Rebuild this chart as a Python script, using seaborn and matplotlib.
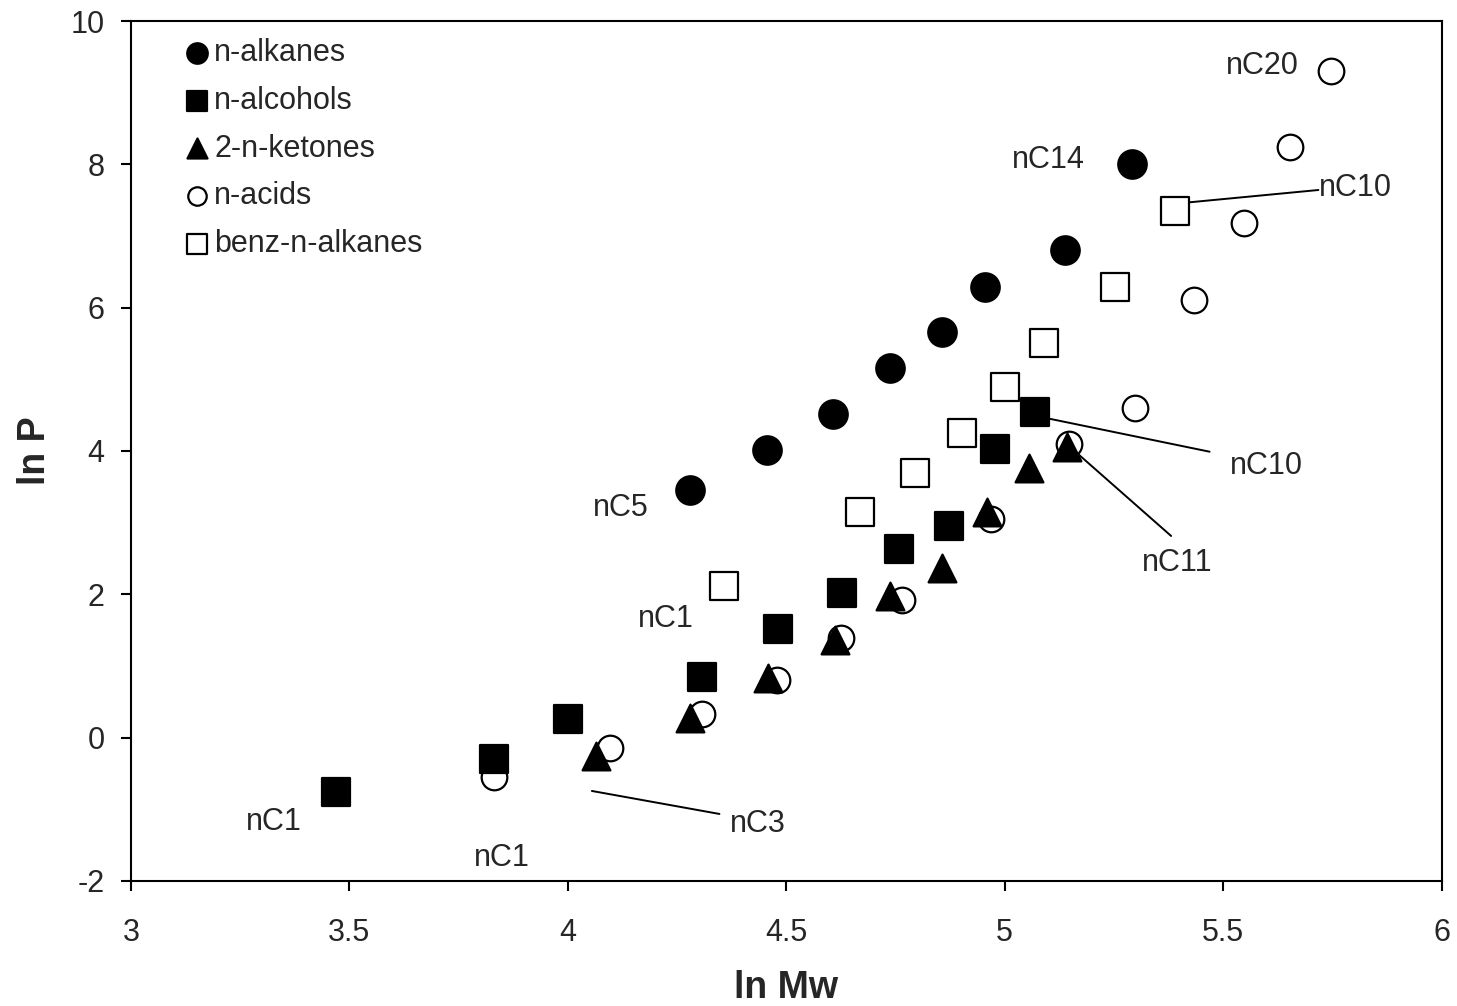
import numpy as np
import pandas as pd
import matplotlib
matplotlib.use('Agg')
import matplotlib.pyplot as plt
import seaborn as sns

# values (ln Mw, ln P)
alkanes_x = [4.279, 4.457, 4.608, 4.737, 4.857, 4.956, 5.139, 5.292]
alkanes_y = [3.456, 4.014, 4.512, 5.154, 5.665, 6.284, 6.805, 8.005]

alcohols_x = [3.469, 3.831, 4.001, 4.308, 4.482, 4.628, 4.757, 4.872, 4.977, 5.069]
alcohols_y = [-0.754, -0.301, 0.257, 0.843, 1.513, 2.015, 2.629, 2.958, 4.024, 4.549]

ketones_x = [4.065, 4.280, 4.458, 4.611, 4.738, 4.857, 4.960, 5.055, 5.143]
ketones_y = [-0.255, 0.271, 0.829, 1.363, 1.981, 2.363, 3.153, 3.759, 4.060]

acids_x = [3.831, 4.097, 4.307, 4.479, 4.626, 4.765, 4.968, 5.147, 5.299, 5.433, 5.547, 5.653, 5.746]
acids_y = [-0.548, -0.148, 0.331, 0.798, 1.387, 1.921, 3.056, 4.094, 4.596, 6.103, 7.186, 8.246, 9.307]

benz_x = [4.358, 4.669, 4.794, 4.903, 5.000, 5.091, 5.252, 5.389]
benz_y = [2.121, 3.153, 3.689, 4.247, 4.889, 5.503, 6.282, 7.349]

# labels: text, position, optional leader line (x0, y0, x1, y1)
label_text = ['nC20', 'nC14', 'nC10', 'nC10', 'nC11', 'nC5', 'nC1', 'nC1', 'nC1', 'nC3']
label_x = [5.590, 5.100, 5.803, 5.599, 5.395, 4.122, 4.225, 3.327, 3.850, 4.434]
label_y = [9.372, 8.061, 7.670, 3.791, 2.437, 3.205, 1.656, -1.176, -1.679, -1.204]
leader_lines = [
    (5.407, 7.461, 5.718, 7.642),
    (5.097, 4.457, 5.469, 3.990),
    (5.166, 3.968, 5.381, 2.814),
    (4.055, -0.744, 4.347, -1.065),
]

sns.set_style('ticks')
plt.rcParams['font.family'] = ['Liberation Sans', 'DejaVu Sans']
plt.rcParams['axes.unicode_minus'] = False

fig = plt.figure(figsize=(14.57, 10.06), dpi=100)
ax = fig.add_axes([0.0899, 0.1243, 0.8995, 0.8548])

# draw order: open circles under the filled symbols
series = [
    ('n-acids', acids_x, acids_y, 'o', 'white', 340, 2),
    ('benz-n-alkanes', benz_x, benz_y, 's', 'white', 380, 2),
    ('n-ketones', ketones_x, ketones_y, '^', 'black', 400, 3),
    ('n-alcohols', alcohols_x, alcohols_y, 's', 'black', 400, 4),
    ('n-alkanes', alkanes_x, alkanes_y, 'o', 'black', 420, 4),
]
handles = {}
for name, xs, ys, mk, fc, size, z in series:
    df = pd.DataFrame({'lnMw': xs, 'lnP': ys})
    sns.scatterplot(data=df, x='lnMw', y='lnP', marker=mk, s=size, color=fc,
                    edgecolor='black', linewidth=1.6, zorder=z, ax=ax, legend=False)
    handles[name] = ax.collections[-1]

for x0, y0, x1, y1 in leader_lines:
    ax.plot([x0, x1], [y0, y1], color='black', lw=1.4, zorder=1)
for t, x, y in zip(label_text, label_x, label_y):
    ax.text(x, y, t, fontsize=22, ha='center', va='center')

ax.set_xlim(3, 6)
ax.set_ylim(-2, 10)
ax.set_xticks([3, 3.5, 4, 4.5, 5, 5.5, 6])
ax.set_xticklabels(['3', '3.5', '4', '4.5', '5', '5.5', '6'])
ax.set_yticks([-2, 0, 2, 4, 6, 8, 10])
ax.tick_params(axis='both', labelsize=22, length=7, width=1.5, direction='out', color='black')
ax.tick_params(axis='y', pad=12)
ax.tick_params(axis='x', pad=19.5)
for sp in ax.spines.values():
    sp.set_linewidth(1.5)
    sp.set_color('black')
ax.set_xlabel('ln Mw', fontsize=27, fontweight='bold')
ax.set_ylabel('ln P', fontsize=27, fontweight='bold')
ax.xaxis.set_label_coords(0.5, -0.1035)
ax.yaxis.set_label_coords(-0.0595, 0.5)

order = ['n-alkanes', 'n-alcohols', 'n-ketones', 'n-acids', 'benz-n-alkanes']
names = ['n-alkanes', 'n-alcohols', '2-n-ketones', 'n-acids', 'benz-n-alkanes']
leg = ax.legend([handles[k] for k in order], names, loc='upper left',
                bbox_to_anchor=(0.025, 1.0015), frameon=False, fontsize=22,
                handletextpad=0.05, labelspacing=0.58, markerscale=0.72,
                handlelength=1.0, borderaxespad=0.2)

fig.savefig('out.png', dpi=100, facecolor='white')
